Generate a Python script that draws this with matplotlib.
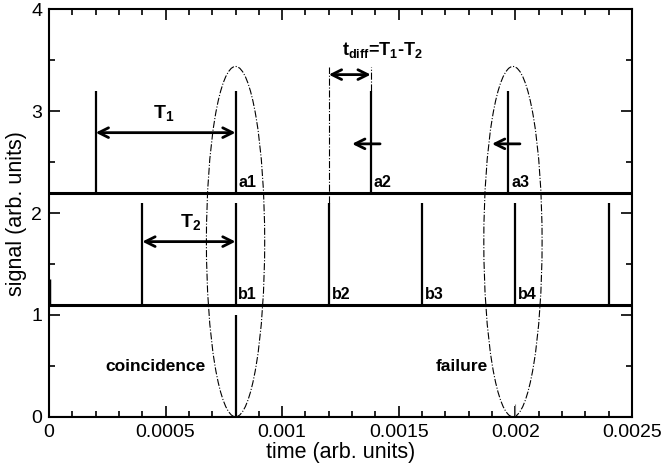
import matplotlib
matplotlib.use("Agg")
import matplotlib.pyplot as plt
from matplotlib.patches import Ellipse
from matplotlib.ticker import MultipleLocator, FixedFormatter, FixedLocator

plt.rcParams['font.family'] = ['Liberation Sans', 'DejaVu Sans']
plt.rcParams['mathtext.fontset'] = 'custom'
plt.rcParams['mathtext.rm'] = 'Liberation Sans'
plt.rcParams['mathtext.bf'] = 'Liberation Sans:bold'

# detector a pulses
a_times = [0.0002, 0.0008, 0.00138, 0.00197]
a_labels = ["", "a1", "a2", "a3"]
a_base = 2.2
a_top = 3.2

# detector b pulses
b_times = [0.0004, 0.0008, 0.0012, 0.0016, 0.002, 0.0024]
b_labels = ["", "b1", "b2", "b3", "b4", ""]
b_base = 1.1
b_top = 2.1
b_edge_top = 1.35   # pulse cut by the y axis at t=0

# coincidence output
coinc_time = 0.0008
coinc_top = 1.0
fail_time = 0.002
fail_top = 0.13

# ellipses (centre x, centre y, width, height)
ellipses = [(0.0008, 1.72, 0.00025, 3.44), (0.00199, 1.72, 0.00025, 3.44)]

x_ticks = [0, 0.0005, 0.001, 0.0015, 0.002, 0.0025]
x_tick_labels = ["0", "0.0005", "0.001", "0.0015", "0.002", "0.0025"]

fig = plt.figure(figsize=(6.63, 4.72), dpi=100)
ax = fig.add_axes([0.074, 0.117, 0.879, 0.863])

# baselines
ax.plot([0, 0.0025], [a_base, a_base], color='black', lw=2.2)
ax.plot([0, 0.0025], [b_base, b_base], color='black', lw=2.2)
ax.plot([0, 0.0025], [0, 0], color='black', lw=2.2)

# pulses
ax.vlines(a_times, a_base, a_top, color='black', lw=1.6)
ax.vlines(b_times, b_base, b_top, color='black', lw=1.6)
ax.vlines([0], b_base, b_edge_top, color='black', lw=2.5)
ax.vlines([coinc_time], 0, coinc_top, color='black', lw=1.6)
ax.vlines([fail_time], 0, fail_top, color='gray', lw=0.8)

for t, lab in zip(a_times, a_labels):
    ax.text(t + 0.000012, a_base + 0.03, lab, fontsize=11.5, fontweight='bold', va='bottom', ha='left')
for t, lab in zip(b_times, b_labels):
    ax.text(t + 0.000012, b_base + 0.03, lab, fontsize=11.5, fontweight='bold', va='bottom', ha='left')

# ellipses
for cx, cy, w, h in ellipses:
    ax.add_patch(Ellipse((cx, cy), w, h, fill=False, ls='-.', lw=0.8, color='black'))

# t_diff markers
ax.vlines([0.0012], b_top, 3.43, color='black', lw=0.8, ls='-.')
ax.vlines([0.00138], a_top, 3.43, color='black', lw=0.8, ls='-.')

arrow = dict(arrowstyle='<->,head_length=0.7,head_width=0.35', lw=2, color='black', shrinkA=0, shrinkB=0)
ax.annotate('', xy=(0.0002, 2.79), xytext=(0.0008, 2.79), arrowprops=arrow)
ax.annotate('', xy=(0.0004, 1.72), xytext=(0.0008, 1.72), arrowprops=arrow)
ax.annotate('', xy=(0.0012, 3.36), xytext=(0.00138, 3.36), arrowprops=arrow)

left = dict(arrowstyle='->,head_length=0.7,head_width=0.35', lw=2, color='black', shrinkA=0, shrinkB=0)
ax.annotate('', xy=(0.0013, 2.68), xytext=(0.00142, 2.68), arrowprops=left)
ax.annotate('', xy=(0.0019, 2.68), xytext=(0.00202, 2.68), arrowprops=left)

ax.text(0.00049, 2.98, r'$\mathbf{T_1}$', fontsize=14, ha='center', va='center')
ax.text(0.000605, 1.91, r'$\mathbf{T_2}$', fontsize=14, ha='center', va='center')
ax.text(0.00143, 3.6, r'$\mathbf{t_{diff}}$=$\mathbf{T_1}$-$\mathbf{T_2}$', fontsize=13,
        fontweight='bold', ha='center', va='center')
ax.text(0.000455, 0.49, "coincidence", fontsize=12.5, fontweight='bold', ha='center', va='center')
ax.text(0.00177, 0.49, "failure", fontsize=12.5, fontweight='bold', ha='center', va='center')

ax.set_xlim(0, 0.0025)
ax.set_ylim(0, 4)
ax.xaxis.set_major_locator(FixedLocator(x_ticks))
ax.xaxis.set_major_formatter(FixedFormatter(x_tick_labels))
ax.xaxis.set_minor_locator(MultipleLocator(0.0001))
ax.yaxis.set_major_locator(MultipleLocator(1))
ax.yaxis.set_minor_locator(MultipleLocator(0.5))
ax.tick_params(which='both', direction='in', top=True, right=True, labelsize=14, width=1.2)
ax.tick_params(which='major', length=8, pad=5)
ax.tick_params(which='minor', length=4)
for s in ax.spines.values():
    s.set_linewidth(1.5)

ax.set_xlabel("time (arb. units)", fontsize=15.5, labelpad=1)
ax.set_ylabel("signal (arb. units)", fontsize=15.5, labelpad=3)

fig.savefig("out.png", dpi=100)
